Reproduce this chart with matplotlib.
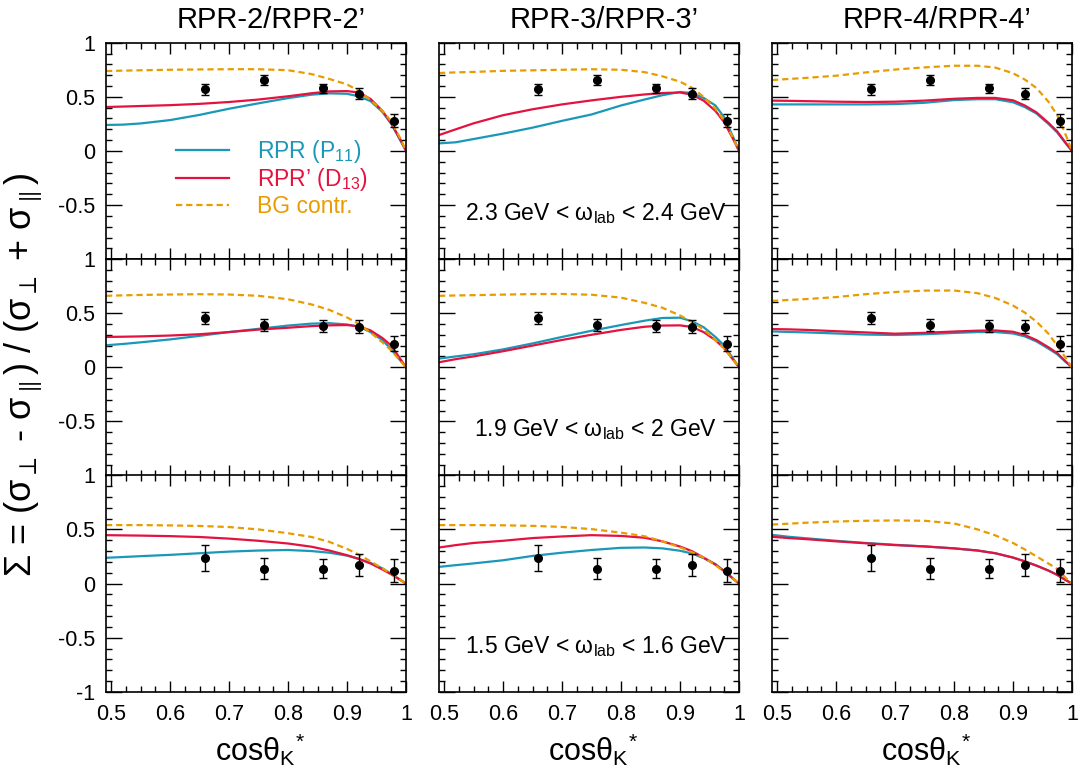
import numpy as np
import matplotlib
matplotlib.use("Agg")
import matplotlib.pyplot as plt
from matplotlib.ticker import MultipleLocator, FixedLocator, FixedFormatter

plt.rcParams['font.family'] = ['Liberation Sans', 'DejaVu Sans']
plt.rcParams['mathtext.fontset'] = 'custom'
plt.rcParams['mathtext.rm'] = 'Liberation Sans'
plt.rcParams['mathtext.it'] = 'Liberation Sans:italic'
plt.rcParams['mathtext.bf'] = 'Liberation Sans:bold'
plt.rcParams['mathtext.fallback'] = 'stixsans'
plt.rcParams['lines.scale_dashes'] = False

# ---- data -------------------------------------------------------------
models = ["RPR-2/RPR-2\u2019", "RPR-3/RPR-3\u2019", "RPR-4/RPR-4\u2019"]
energy_bins = ["2.3 GeV < $\\mathrm{\\omega}_{\\mathrm{lab}}$ < 2.4 GeV",
               "1.9 GeV < $\\mathrm{\\omega}_{\\mathrm{lab}}$ < 2 GeV",
               "1.5 GeV < $\\mathrm{\\omega}_{\\mathrm{lab}}$ < 1.6 GeV"]

cos_data = [0.66, 0.76, 0.86, 0.92, 0.98]
sigma_data = [
    [0.57, 0.655, 0.578, 0.53, 0.28],    # 2.3-2.4 GeV
    [0.455, 0.393, 0.384, 0.374, 0.218],  # 1.9-2 GeV
    [0.238, 0.139, 0.139, 0.17, 0.12],    # 1.5-1.6 GeV
]
sigma_err = [
    [0.053, 0.048, 0.04, 0.05, 0.06],
    [0.058, 0.057, 0.054, 0.058, 0.07],
    [0.12, 0.10, 0.09, 0.10, 0.11],
]

cos_grid = [0.4915, 0.52, 0.55, 0.6, 0.65, 0.7, 0.75, 0.8, 0.84, 0.87,
            0.9, 0.92, 0.94, 0.96, 0.975, 0.99, 1.0]

# model curves: [row][column]
rpr_p11 = [
    [[0.24, 0.243, 0.254, 0.285, 0.333, 0.39, 0.44, 0.488, 0.52, 0.532, 0.528, 0.505, 0.46, 0.36, 0.25, 0.1, 0.0],
     [0.07, 0.08, 0.11, 0.16, 0.215, 0.278, 0.337, 0.42, 0.475, 0.515, 0.545, 0.535, 0.49, 0.42, 0.31, 0.13, 0.0],
     [0.43, 0.43, 0.43, 0.43, 0.43, 0.433, 0.445, 0.47, 0.478, 0.478, 0.45, 0.405, 0.345, 0.25, 0.17, 0.065, 0.0]],
    [[0.203, 0.215, 0.23, 0.257, 0.29, 0.325, 0.355, 0.385, 0.403, 0.407, 0.395, 0.375, 0.325, 0.25, 0.165, 0.065, 0.0],
     [0.08, 0.1, 0.12, 0.165, 0.22, 0.28, 0.337, 0.39, 0.43, 0.455, 0.458, 0.425, 0.37, 0.28, 0.2, 0.08, 0.0],
     [0.331, 0.326, 0.322, 0.312, 0.302, 0.298, 0.305, 0.317, 0.325, 0.325, 0.312, 0.285, 0.238, 0.172, 0.12, 0.045, 0.0]],
    [[0.238, 0.245, 0.253, 0.265, 0.28, 0.295, 0.305, 0.31, 0.3, 0.285, 0.258, 0.228, 0.19, 0.14, 0.09, 0.035, 0.0],
     [0.154, 0.17, 0.186, 0.215, 0.255, 0.285, 0.31, 0.33, 0.333, 0.325, 0.303, 0.278, 0.235, 0.18, 0.115, 0.045, 0.0],
     [0.45, 0.432, 0.418, 0.395, 0.375, 0.358, 0.343, 0.325, 0.305, 0.28, 0.24, 0.205, 0.165, 0.12, 0.08, 0.03, 0.0]],
]
rpr_d13 = [
    [[0.406, 0.41, 0.415, 0.423, 0.435, 0.452, 0.475, 0.505, 0.533, 0.55, 0.553, 0.54, 0.48, 0.37, 0.255, 0.11, 0.0],
     [0.147, 0.2, 0.255, 0.33, 0.385, 0.43, 0.467, 0.5, 0.522, 0.535, 0.54, 0.52, 0.465, 0.37, 0.265, 0.11, 0.0],
     [0.465, 0.463, 0.46, 0.455, 0.452, 0.455, 0.465, 0.482, 0.49, 0.49, 0.468, 0.42, 0.355, 0.26, 0.18, 0.07, 0.0]],
    [[0.28, 0.282, 0.285, 0.293, 0.305, 0.325, 0.348, 0.365, 0.38, 0.387, 0.39, 0.378, 0.34, 0.27, 0.2, 0.08, 0.0],
     [0.046, 0.075, 0.1, 0.148, 0.2, 0.252, 0.3, 0.345, 0.374, 0.385, 0.387, 0.372, 0.325, 0.25, 0.175, 0.07, 0.0],
     [0.353, 0.35, 0.345, 0.333, 0.322, 0.31, 0.318, 0.33, 0.338, 0.34, 0.328, 0.298, 0.25, 0.185, 0.13, 0.05, 0.0]],
    [[0.447, 0.445, 0.443, 0.438, 0.43, 0.415, 0.395, 0.37, 0.34, 0.305, 0.262, 0.228, 0.185, 0.13, 0.085, 0.035, 0.0],
     [0.333, 0.355, 0.375, 0.395, 0.42, 0.435, 0.447, 0.44, 0.423, 0.39, 0.342, 0.3, 0.24, 0.175, 0.115, 0.045, 0.0],
     [0.432, 0.42, 0.41, 0.39, 0.372, 0.355, 0.343, 0.325, 0.305, 0.28, 0.24, 0.205, 0.165, 0.12, 0.08, 0.03, 0.0]],
]
bg_contr = [
    [[0.738, 0.742, 0.745, 0.75, 0.753, 0.755, 0.755, 0.746, 0.71, 0.665, 0.615, 0.555, 0.47, 0.37, 0.275, 0.12, 0.0],
     [0.72, 0.726, 0.73, 0.74, 0.745, 0.75, 0.755, 0.75, 0.728, 0.69, 0.64, 0.585, 0.5, 0.39, 0.28, 0.12, 0.0],
     [0.655, 0.665, 0.675, 0.695, 0.725, 0.752, 0.772, 0.787, 0.787, 0.77, 0.718, 0.66, 0.58, 0.455, 0.33, 0.14, 0.0]],
    [[0.66, 0.664, 0.668, 0.672, 0.675, 0.672, 0.66, 0.628, 0.58, 0.53, 0.46, 0.4, 0.32, 0.23, 0.155, 0.06, 0.0],
     [0.66, 0.663, 0.666, 0.671, 0.676, 0.677, 0.67, 0.643, 0.595, 0.55, 0.478, 0.42, 0.35, 0.25, 0.175, 0.07, 0.0],
     [0.613, 0.622, 0.63, 0.648, 0.675, 0.695, 0.708, 0.709, 0.684, 0.64, 0.57, 0.505, 0.42, 0.31, 0.2, 0.08, 0.0]],
    [[0.54, 0.54, 0.54, 0.537, 0.532, 0.522, 0.5, 0.465, 0.43, 0.385, 0.32, 0.268, 0.205, 0.14, 0.09, 0.035, 0.0],
     [0.54, 0.54, 0.54, 0.538, 0.533, 0.523, 0.503, 0.47, 0.437, 0.39, 0.335, 0.29, 0.24, 0.17, 0.11, 0.045, 0.0],
     [0.545, 0.553, 0.562, 0.573, 0.58, 0.583, 0.58, 0.555, 0.5, 0.445, 0.375, 0.315, 0.25, 0.185, 0.135, 0.05, 0.0]],
]

legend_labels = ["RPR (P$_{11}$)", "RPR\u2019 (D$_{13}$)", "BG contr."]
x_ticks = [0.5, 0.6, 0.7, 0.8, 0.9, 1.0]
x_tick_labels = ["0.5", "0.6", "0.7", "0.8", "0.9", "1"]
y_ticks = [-1.0, -0.5, 0.0, 0.5, 1.0]
y_tick_labels = ["-1", "-0.5", "0", "0.5", "1"]

# ---- styling ----------------------------------------------------------
C_BLUE = "#1a98b8"
C_RED = "#e4123f"
C_ORANGE = "#e89c00"

W, H = 1084, 776
fig = plt.figure(figsize=(W / 100, H / 100), dpi=100)

col_left = [106, 439, 772]
col_width = 300
row_top = [42.7, 259.0, 475.3]
row_height = 216.5

for r in range(3):
    for c in range(3):
        ax = fig.add_axes([col_left[c] / W, 1 - (row_top[r] + row_height) / H,
                           col_width / W, row_height / H])
        ax.set_xlim(0.4915, 1.0)
        ax.set_ylim(-1.0, 1.0)

        lb, = ax.plot(cos_grid, rpr_p11[r][c], color=C_BLUE, lw=1.6)
        lr, = ax.plot(cos_grid, rpr_d13[r][c], color=C_RED, lw=1.6)
        lo, = ax.plot(cos_grid, bg_contr[r][c], color=C_ORANGE, lw=1.6,
                      dashes=[4.5, 2.8])
        ax.errorbar(cos_data, sigma_data[r], yerr=sigma_err[r], fmt='o',
                    color='black', ms=5.5, elinewidth=1.0, capsize=2.8,
                    capthick=1.0, zorder=5)

        ax.xaxis.set_major_locator(FixedLocator(x_ticks))
        ax.xaxis.set_minor_locator(MultipleLocator(0.025))
        ax.yaxis.set_major_locator(FixedLocator(y_ticks))
        ax.yaxis.set_minor_locator(MultipleLocator(0.1))
        ax.tick_params(which='both', direction='in', top=True, right=True,
                       width=1.0, colors='black')
        ax.tick_params(axis='x', which='major', length=8, pad=9)
        ax.tick_params(axis='x', which='minor', length=4)
        ax.tick_params(axis='y', which='major', length=11.5, pad=8)
        ax.tick_params(axis='y', which='minor', length=4.5)
        ax.tick_params(labelsize=15.5)
        for sp in ax.spines.values():
            sp.set_linewidth(1.2)

        if r == 2:
            ax.xaxis.set_major_formatter(FixedFormatter(x_tick_labels))
        else:
            ax.set_xticklabels([])
        if c == 0:
            labs = list(y_tick_labels)
            if r < 2:
                labs[0] = ""
            ax.yaxis.set_major_formatter(FixedFormatter(labs))
        else:
            ax.set_yticklabels([])

        if c == 1:
            ax.text(0.757, -0.58, energy_bins[r], fontsize=16.5,
                    ha='center', va='center')
        if r == 0 and c == 0:
            leg = ax.legend([lb, lr, lo], legend_labels, loc='upper left',
                            bbox_to_anchor=(0.233, 0.56), frameon=False,
                            fontsize=16.5, handlelength=2.3, handletextpad=1.25,
                            labelspacing=0.06, labelcolor='linecolor',
                            borderpad=0, borderaxespad=0)
        if r == 2:
            ax.text(0.5 + 4 / col_width, -0.27,
                    "cos$\\mathrm{{\\theta_{K}}^{*}}$",
                    transform=ax.transAxes, fontsize=22, ha='center', va='center')

for c in range(3):
    fig.text((col_left[c] + col_width / 2 + 15) / W, 1 - 20 / H, models[c],
             fontsize=21, ha='center', va='center')

fig.text(24 / W, 1 - 375 / H,
         "$\\mathrm{\\Sigma}$ = ($\\mathrm{\\sigma}_{\\perp}$ - $\\mathrm{\\sigma}_{\\parallel}$) / "
         "($\\mathrm{\\sigma}_{\\perp}$ + $\\mathrm{\\sigma}_{\\parallel}$)",
         rotation=90, fontsize=26, ha='center', va='center')

fig.savefig("out.png", dpi=100)
